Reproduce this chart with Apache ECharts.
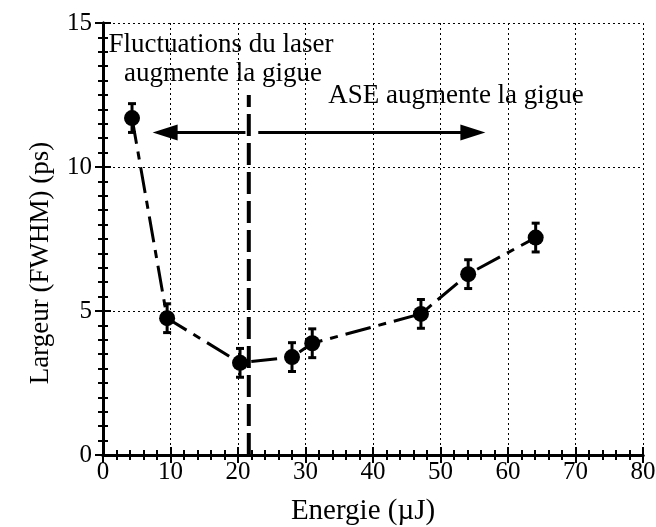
<!DOCTYPE html>
<html>
<head>
<meta charset="utf-8">
<script src="https://cdn.jsdelivr.net/npm/echarts@6/dist/echarts.min.js"></script>
<style>
  html, body { margin: 0; padding: 0; background: #fff; }
  #chart { width: 656px; height: 527px; }
</style>
</head>
<body>
<div id="chart"></div>
<script>
const energy = [4.3, 9.5, 20.3, 28.0, 31.0, 47.1, 54.1, 64.1];
const width = [11.7, 4.75, 3.2, 3.4, 3.88, 4.9, 6.28, 7.55];
const errLow = [11.2, 4.25, 2.7, 2.9, 3.38, 4.4, 5.78, 7.05];
const errHigh = [12.2, 5.25, 3.7, 3.9, 4.38, 5.4, 6.78, 8.05];
const splitX = 21.6;
const splitTop = 12.5;
const arrowY = 11.2;
const arrowLeft = [21.1, 9.2];
const arrowRight = [23.0, 54.8];

const FONT = "Liberation Serif";
const chart = echarts.init(document.getElementById("chart"));

const points = energy.map((x, i) => [x, width[i]]);
const bars = energy.map((x, i) => [x, errLow[i], errHigh[i]]);

const tickStyle = { color: "#000", width: 2 };

function axisBase(extra) {
  return Object.assign({
    type: "value",
    axisLine: { lineStyle: { color: "#000", width: 3 } },
    axisTick: { inside: true, length: 8, lineStyle: tickStyle },
    axisLabel: { color: "#000", fontFamily: FONT, fontSize: 25 },
  }, extra);
}

chart.setOption({
  animation: false,
  grid: { left: 103, right: 13, top: 23, bottom: 72, outerBoundsMode: "none", containLabel: false },
  xAxis: [
    axisBase({
      min: 0, max: 80, interval: 10,
      minorTick: { show: true, splitNumber: 5, length: 5, lineStyle: tickStyle },
      splitLine: { show: true, lineStyle: { color: "#000", type: [2, 3], width: 1 } },
      axisLabel: { color: "#000", fontFamily: FONT, fontSize: 25, margin: 5 },
      name: "Energie (µJ)", nameLocation: "middle", nameGap: 42,
      nameTextStyle: { color: "#000", fontFamily: FONT, fontSize: 29, padding: [0, 20, 0, 0] },
    }),
    axisBase({
      position: "top", min: 0, max: 80, interval: 10,
      minorTick: { show: true, splitNumber: 5, length: 5, lineStyle: tickStyle },
      axisLabel: { show: false }, splitLine: { show: false },
    }),
  ],
  yAxis: [
    axisBase({
      min: 0, max: 15, interval: 5,
      minorTick: { show: true, splitNumber: 10, length: 5, lineStyle: tickStyle },
      splitLine: { show: true, lineStyle: { color: "#000", type: [2, 3], width: 1 } },
      axisLabel: { color: "#000", fontFamily: FONT, fontSize: 25, margin: 11 },
    }),
    axisBase({
      position: "right", min: 0, max: 15, interval: 5,
      minorTick: { show: true, splitNumber: 10, length: 5, lineStyle: tickStyle },
      axisLabel: { show: false }, splitLine: { show: false },
    }),
  ],
  series: [
    {
      type: "line",
      data: [[splitX, 0], [splitX, splitTop]],
      symbol: "none",
      lineStyle: { color: "#000", width: 4, type: [22, 7] },
      z: 2,
    },
    {
      type: "line",
      data: [],
      markLine: {
        silent: true,
        symbol: ["none", "triangle"],
        symbolSize: [16, 25],
        label: { show: false },
        lineStyle: { color: "#000", width: 3, type: "solid" },
        data: [
          [{ coord: [arrowLeft[0], arrowY] }, { coord: [arrowLeft[1], arrowY] }],
          [{ coord: [arrowRight[0], arrowY] }, { coord: [arrowRight[1], arrowY] }],
        ],
      },
    },
    {
      type: "line",
      data: points,
      symbol: "circle",
      symbolSize: 16,
      itemStyle: { color: "#000" },
      lineStyle: { color: "#000", width: 3, type: [26, 8, 8, 8] },
      z: 4,
    },
    {
      type: "custom",
      data: bars,
      z: 5,
      renderItem(params, api) {
        const x = api.value(0);
        const lo = api.coord([x, api.value(1)]);
        const hi = api.coord([x, api.value(2)]);
        const cap = 4;
        const style = { stroke: "#000", lineWidth: 3 };
        return {
          type: "group",
          children: [
            { type: "line", shape: { x1: lo[0], y1: lo[1], x2: hi[0], y2: hi[1] }, style },
            { type: "line", shape: { x1: lo[0] - cap, y1: lo[1], x2: lo[0] + cap, y2: lo[1] }, style },
            { type: "line", shape: { x1: hi[0] - cap, y1: hi[1], x2: hi[0] + cap, y2: hi[1] }, style },
          ],
        };
      },
    },
  ],
  graphic: [
    { type: "text", x: 41, y: 263, rotation: Math.PI / 2,
      style: { text: "Largeur (FWHM) (ps)", font: `27px "${FONT}"`, fill: "#000", align: "center", verticalAlign: "middle" } },
    { type: "text", x: 221, y: 45, style: { text: "Fluctuations du laser", font: `27px "${FONT}"`, fill: "#000", align: "center", verticalAlign: "middle" } },
    { type: "text", x: 223, y: 74, style: { text: "augmente la gigue", font: `27px "${FONT}"`, fill: "#000", align: "center", verticalAlign: "middle" } },
    { type: "text", x: 456, y: 96, style: { text: "ASE augmente la gigue", font: `27px "${FONT}"`, fill: "#000", align: "center", verticalAlign: "middle" } },
  ],
});
</script>
</body>
</html>
